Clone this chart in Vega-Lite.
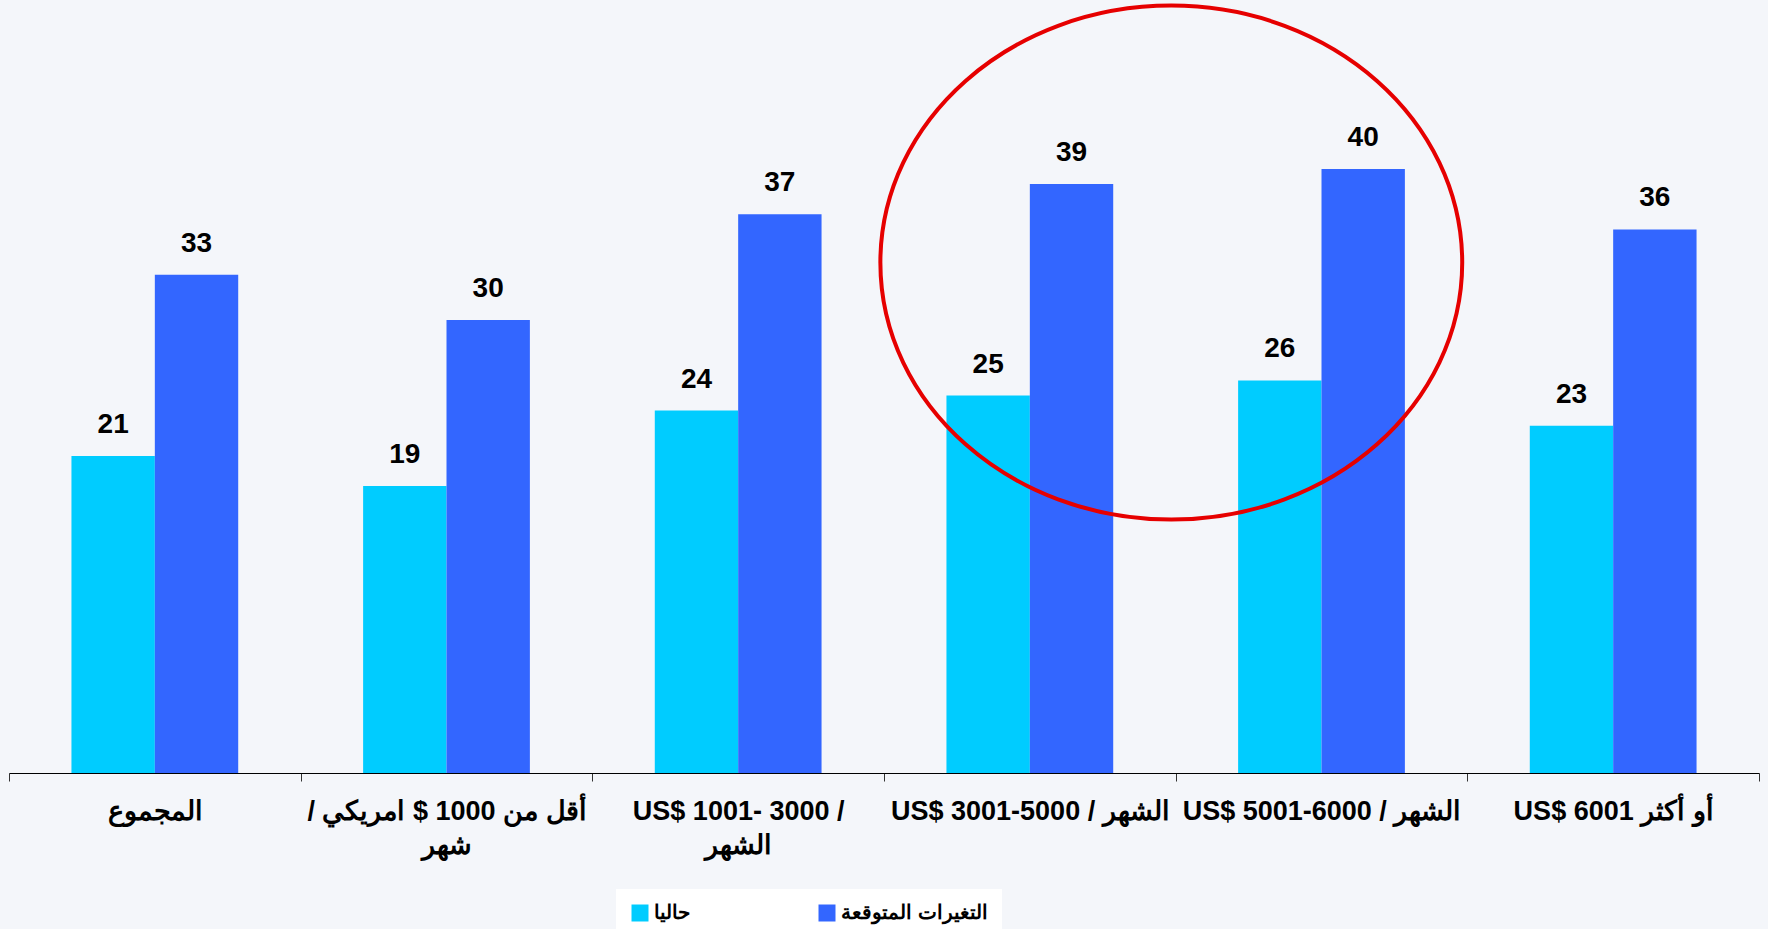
{
  "$schema": "https://vega.github.io/schema/vega-lite/v6.json",
  "width": 1750,
  "height": 755,
  "autosize": "none",
  "padding": {"left": 9, "top": 18, "right": 9, "bottom": 156},
  "background": "#f4f6fa",
  "config": {"view": {"stroke": null}, "font": "Liberation Sans"},
  "datasets": {
    "bars": [
      {"group": "المجموع", "series": "حاليا", "value": 21},
      {"group": "المجموع", "series": "التغيرات المتوقعة", "value": 33},
      {"group": "أقل من 1000 $ امريكي / شهر", "series": "حاليا", "value": 19},
      {"group": "أقل من 1000 $ امريكي / شهر", "series": "التغيرات المتوقعة", "value": 30},
      {"group": "US$ 1001- 3000 / الشهر", "series": "حاليا", "value": 24},
      {"group": "US$ 1001- 3000 / الشهر", "series": "التغيرات المتوقعة", "value": 37},
      {"group": "US$ 3001-5000 / الشهر", "series": "حاليا", "value": 25},
      {"group": "US$ 3001-5000 / الشهر", "series": "التغيرات المتوقعة", "value": 39},
      {"group": "US$ 5001-6000 / الشهر", "series": "حاليا", "value": 26},
      {"group": "US$ 5001-6000 / الشهر", "series": "التغيرات المتوقعة", "value": 40},
      {"group": "US$ 6001 أو أكثر", "series": "حاليا", "value": 23},
      {"group": "US$ 6001 أو أكثر", "series": "التغيرات المتوقعة", "value": 36}
    ],
    "ring": [{"pos": 3.985, "level": 33.8}]
  },
  "layer": [
    {
      "data": {"name": "bars"},
      "encoding": {
        "x": {
          "field": "group",
          "type": "nominal",
          "sort": null,
          "scale": {"paddingInner": 0, "paddingOuter": 0},
          "axis": {
            "title": null,
            "domainColor": "#000000",
            "domainWidth": 1.2,
            "tickColor": "#333333",
            "tickSize": 8,
            "tickBand": "extent",
            "labelFontSize": 27,
            "labelFontWeight": "bold",
            "labelColor": "#000000",
            "labelPadding": 17,
            "labelLineHeight": 34,
            "labelAngle": 0,
            "labelLimit": 500,
            "labelOverlap": false,
            "labelExpr": "datum.value === 'أقل من 1000 $ امريكي / شهر' ? ['أقل من 1000 $ امريكي /\u200f', 'شهر'] : datum.value === 'US$ 1001- 3000 / الشهر' ? ['US$ 1001- 3000 /', 'الشهر'] : datum.label"
          }
        },
        "xOffset": {"field": "series", "type": "nominal", "scale": {"domain": ["حاليا", "التغيرات المتوقعة"], "paddingInner": 0, "paddingOuter": 0.749}},
        "y": {"field": "value", "type": "quantitative", "scale": {"domain": [0, 50]}, "axis": null}
      },
      "layer": [
        {
          "mark": {"type": "bar"},
          "encoding": {
            "color": {
              "field": "series",
              "type": "nominal",
              "scale": {"domain": ["حاليا", "التغيرات المتوقعة"], "range": ["#00ccff", "#3366ff"]},
              "legend": {
                "title": null,
                "orient": "none",
                "legendX": 607,
                "legendY": 871,
                "direction": "horizontal",
                "fillColor": "#ffffff",
                "padding": 14,
                "symbolType": "square",
                "symbolSize": 289,
                "symbolStrokeWidth": 0,
                "symbolOpacity": 1,
                "labelFontSize": 20,
                "labelFontWeight": "bold",
                "labelColor": "#000000",
                "columnPadding": 127
              }
            }
          }
        },
        {
          "mark": {"type": "text", "dy": -23, "fontSize": 28, "fontWeight": "bold", "baseline": "alphabetic", "color": "#000000"},
          "encoding": {"text": {"field": "value", "type": "quantitative"}}
        }
      ]
    },
    {
      "data": {"name": "ring"},
      "mark": {
        "type": "point",
        "shape": "M -1.132 0 A 1.132 1 0 1 1 1.132 0 A 1.132 1 0 1 1 -1.132 0 Z",
        "size": 264196,
        "filled": false,
        "stroke": "#e60000",
        "strokeWidth": 4,
        "opacity": 1
      },
      "encoding": {
        "x": {"field": "pos", "type": "quantitative", "scale": {"domain": [0, 6]}, "axis": null},
        "y": {"field": "level", "type": "quantitative", "axis": null}
      }
    }
  ],
  "resolve": {"scale": {"x": "independent"}}
}
